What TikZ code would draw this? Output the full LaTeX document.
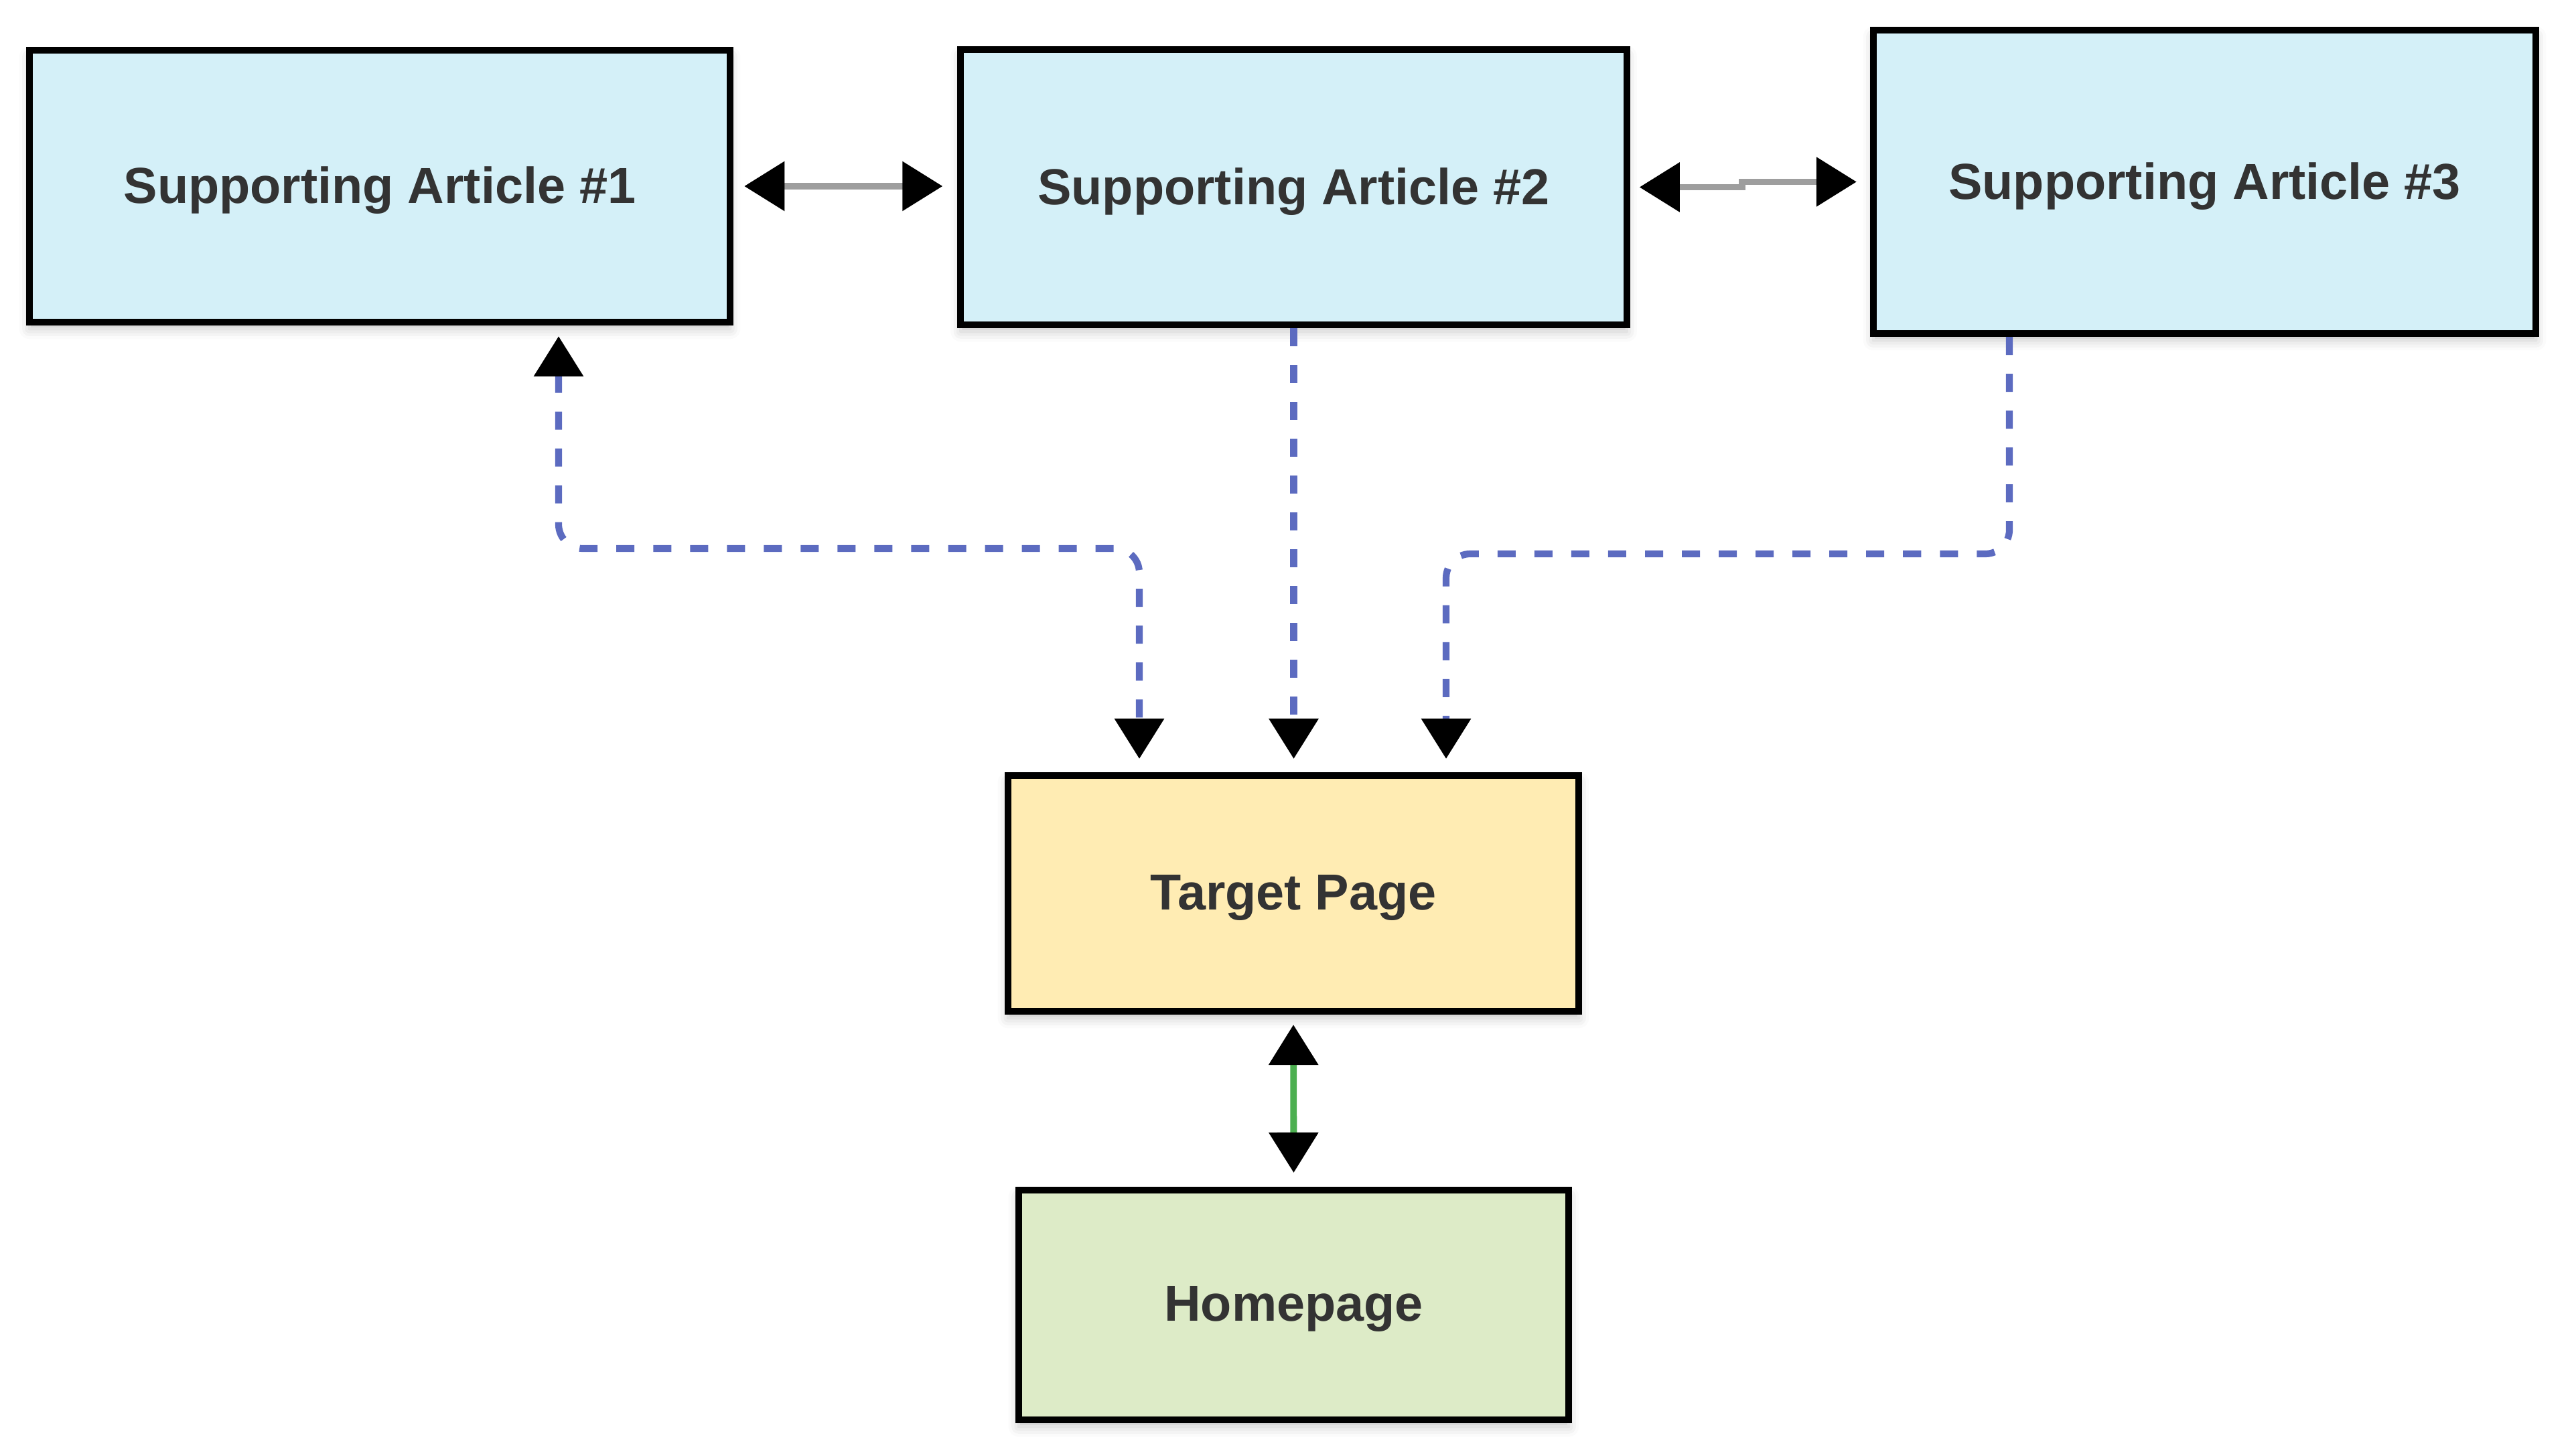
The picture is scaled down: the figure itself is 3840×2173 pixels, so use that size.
\documentclass[tikz,border=0pt]{standalone}
\usepackage{fontspec}
\setmainfont{Liberation Sans}
\usetikzlibrary{arrows.meta,shadows.blur}
\definecolor{artblue}{HTML}{D4F0F8}
\definecolor{tgtyellow}{HTML}{FFECB3}
\definecolor{homegreen}{HTML}{DDEBC7}
\definecolor{dashblue}{HTML}{5C6BC0}
\definecolor{tiegray}{HTML}{9E9E9E}
\definecolor{navgreen}{HTML}{4CAF50}
\definecolor{inkgray}{HTML}{333333}
\tikzset{
  card/.style={draw=black,line width=2.8pt,inner sep=0pt,text=inkgray,text depth=1pt,
    font=\fontsize{21.5}{26}\selectfont\bfseries,
    blur shadow={shadow xshift=0pt,shadow yshift=-0.1cm,shadow blur radius=0.15cm,shadow opacity=22}},
  tie/.style={draw=tiegray,line width=2.7pt},
  linkdash/.style={draw=dashblue,line width=2.9pt,dash pattern=on 0.27cm off 0.28cm,rounded corners=0.36cm},
  nav/.style={draw=navgreen,line width=2.8pt}
}
\begin{document}
\begin{tikzpicture}[x=0.01cm,y=-0.01cm,>={Triangle[length=0.6cm,width=0.72cm,color=black]}]
\useasboundingbox (0,0) rectangle (3840,2173);
\node[card,fill=artblue,minimum width=10.46cm,minimum height=4.06cm](A1) at (567,278){Supporting Article \#1};
\node[card,fill=artblue,minimum width=9.94cm,minimum height=4.11cm](A2) at (1931.5,279.5){Supporting Article \#2};
\node[card,fill=artblue,minimum width=9.89cm,minimum height=4.53cm](A3) at (3291.5,271.5){Supporting Article \#3};
\node[card,fill=tgtyellow,minimum width=8.52cm,minimum height=3.52cm](T) at (1931,1334){Target Page};
\node[card,fill=homegreen,minimum width=8.21cm,minimum height=3.43cm](H) at (1931.5,1948.5){Homepage};
% links between the articles
\draw[tie,<->,shorten <=0.16cm,shorten >=0.22cm](A1.east)--(A1.east -| A2.west);
\draw[tie,<->,shorten <=0.14cm,shorten >=0.2cm](A2.east)--++(167,0)|-(A3.west);
% links to the target page
\coordinate (k1) at (834,819);
\coordinate (k2) at (1701,819);
\coordinate (k3) at (3000,827);
\coordinate (k4) at (2159,827);
\draw[linkdash,<->,shorten <=0.16cm,shorten >=0.2cm](A1.south -| k1)--(k1)--(k2)--(k2 |- T.north);
\draw[linkdash,->,shorten >=0.2cm](A2.south)--(A2.south |- T.north);
\draw[linkdash,->,shorten >=0.2cm](A3.south -| k3)--(k3)--(k4)--(k4 |- T.north);
\draw[nav,<->,shorten <=0.15cm,shorten >=0.21cm](T.south)--(H.north);
\end{tikzpicture}
\end{document}
